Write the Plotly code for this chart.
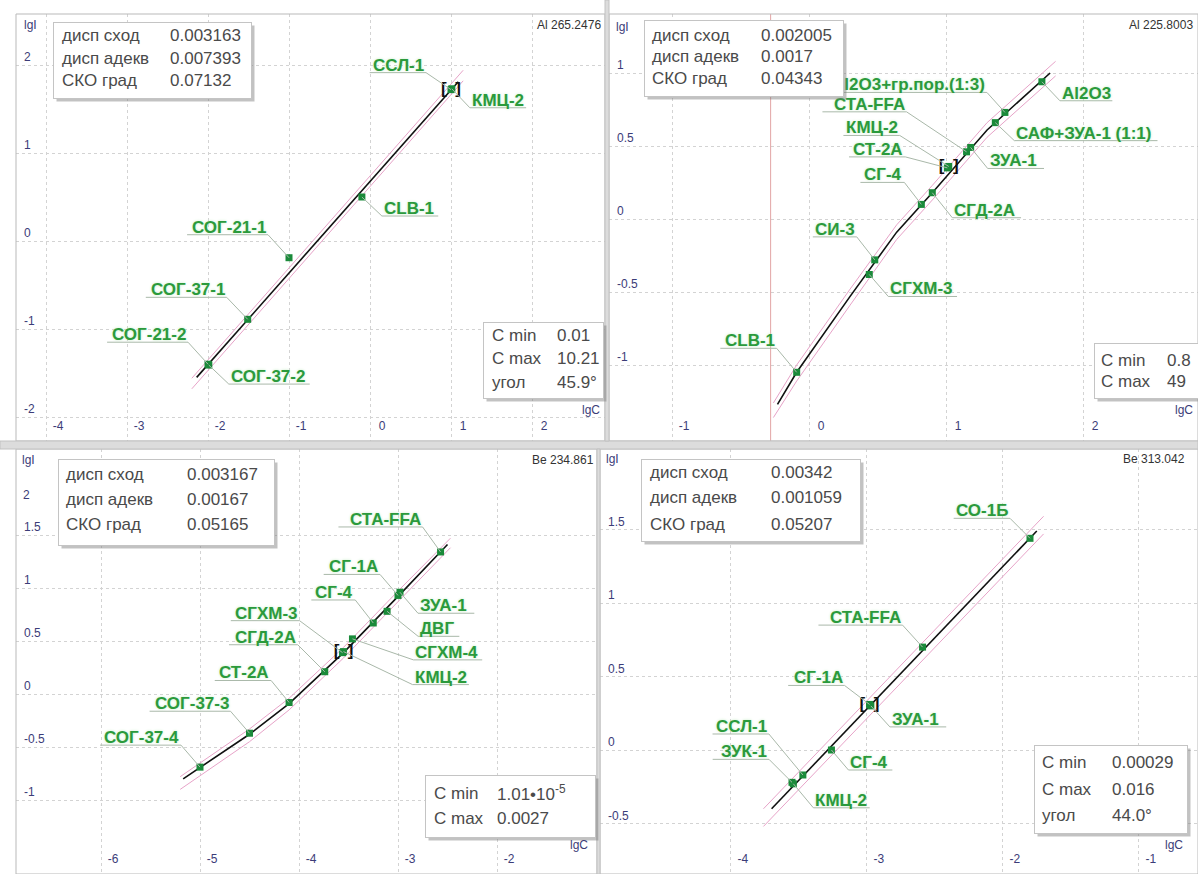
import plotly.graph_objects as go

W, H = 1198, 874

# ---------------------------------------------------------------- data
# Al 265.2476
a_title = "Al 265.2476"
a_names = ["ССЛ-1", "КМЦ-2", "CLB-1", "СОГ-21-1", "СОГ-37-1", "СОГ-21-2", "СОГ-37-2"]
a_lgc = [1.00, 1.01, -0.10, -1.00, -1.51, -2.00, -1.99]
a_lgi = [1.72, 1.73, 0.50, -0.19, -0.89, -1.40, -1.41]
a_fit_lgc = [-2.14, 1.09]
a_fit_lgi = [-1.55, 1.81]
a_band_lgc = [-2.20, 1.15]
a_band_lo = [-1.68, 1.82]
a_band_hi = [-1.56, 1.94]
a_selected = 0
a_stats = ["0.003163", "0.007393", "0.07132"]
a_range = ["0.01", "10.21", "45.9°"]
a_xticks = [-4, -3, -2, -1, 0, 1, 2]
a_xtext = ["-4", "-3", "-2", "-1", "0", "1", "2"]
a_yticks = [-2, -1, 0, 1, 2]
a_ytext = ["-2", "-1", "0", "1", "2"]

# Al 225.8003
b_title = "Al 225.8003"
b_names = ["Al2O3", "Al2O3+гр.пор.(1:3)", "САФ+ЗУА-1 (1:1)", "ЗУА-1", "СТА-FFA", "КМЦ-2",
           "СТ-2А", "СГД-2А", "СГ-4", "СИ-3", "СГХМ-3", "CLB-1"]
b_lgc = [1.70, 1.43, 1.36, 1.18, 1.15, 1.02, 1.01, 0.90, 0.82, 0.48, 0.44, -0.09]
b_lgi = [0.94, 0.73, 0.66, 0.49, 0.46, 0.36, 0.35, 0.18, 0.10, -0.28, -0.38, -1.05]
b_fit_lgc = [-0.23, -0.09, 0.30, 0.64, 0.90, 1.30, 1.76]
b_fit_lgi = [-1.27, -1.05, -0.53, -0.09, 0.18, 0.61, 1.00]
b_band_lgc = [-0.26, -0.09, 0.30, 0.64, 0.90, 1.30, 1.80]
b_band_lo = [-1.36, -1.11, -0.59, -0.14, 0.13, 0.56, 0.98]
b_band_hi = [-1.26, -1.00, -0.48, -0.04, 0.23, 0.66, 1.08]
b_limit_lgc = -0.28
b_selected = 5
b_stats = ["0.002005", "0.0017", "0.04343"]
b_range = ["0.8", "49"]
b_xticks = [-1, 0, 1, 2]
b_xtext = ["-1", "0", "1", "2"]
b_yticks = [-1, -0.5, 0, 0.5, 1]
b_ytext = ["-1", "-0.5", "0", "0.5", "1"]

# Be 234.861
c_title = "Be 234.861"
c_names = ["СТА-FFA", "СГ-1А", "ЗУА-1", "СГ-4", "ДВГ", "СГХМ-4", "СГХМ-3", "КМЦ-2",
           "СГД-2А", "СТ-2А", "СОГ-37-3", "СОГ-37-4"]
c_lgc = [-2.57, -3.00, -2.98, -3.25, -3.11, -3.46, -3.56, -3.55, -3.74, -4.10, -4.50, -5.00]
c_lgi = [1.34, 0.93, 0.96, 0.67, 0.78, 0.52, 0.39, 0.40, 0.21, -0.08, -0.37, -0.69]
c_fit_lgc = [-5.17, -4.50, -4.10, -3.55, -2.98, -2.50]
c_fit_lgi = [-0.80, -0.38, -0.09, 0.39, 0.94, 1.41]
c_band_lgc = [-5.20, -4.50, -4.10, -3.55, -2.98, -2.47]
c_band_lo = [-0.90, -0.45, -0.15, 0.34, 0.89, 1.38]
c_band_hi = [-0.78, -0.33, -0.04, 0.44, 0.99, 1.47]
c_selected = 7
c_stats = ["0.003167", "0.00167", "0.05165"]
c_range = ["1.01•10<sup>-5</sup>", "0.0027"]
c_xticks = [-6, -5, -4, -3, -2]
c_xtext = ["-6", "-5", "-4", "-3", "-2"]
c_yticks = [-1.5, -1, -0.5, 0, 0.5, 1, 1.5]
c_ytext = ["-1.5", "-1", "-0.5", "0", "0.5", "1", "1.5"]
c_top_tick = "2"

# Be 313.042
d_title = "Be 313.042"
d_names = ["СО-1Б", "СТА-FFA", "СГ-1А", "ЗУА-1", "СГ-4", "ССЛ-1", "ЗУК-1", "КМЦ-2"]
d_lgc = [-1.80, -2.59, -2.98, -2.97, -3.26, -3.47, -3.55, -3.54]
d_lgi = [1.44, 0.70, 0.31, 0.30, 0.00, -0.17, -0.22, -0.23]
d_fit_lgc = [-3.70, -1.75]
d_fit_lgi = [-0.40, 1.49]
d_band_lgc = [-3.76, -1.70]
d_band_lo = [-0.52, 1.47]
d_band_hi = [-0.40, 1.59]
d_selected = 2
d_stats = ["0.00342", "0.001059", "0.05207"]
d_range = ["0.00029", "0.016", "44.0°"]
d_xticks = [-4, -3, -2, -1]
d_xtext = ["-4", "-3", "-2", "-1"]
d_yticks = [-0.5, 0, 0.5, 1, 1.5]
d_ytext = ["-0.5", "0", "0.5", "1", "1.5"]

stat_labels = ["дисп сход", "дисп адекв", "СКО град"]
range_labels = ["C min", "C max", "угол"]

# ---------------------------------------------------------------- layout
# label leaders: elbow offset from the point in px (right, down) and text side
a_place = [(-25, -17, "L"), (18, 19, "R"), (20, 19, "R"), (-21, -23, "L"),
           (-21, -22, "L"), (-20, -22, "L"), (20, 19, "R")]
b_place = [(18, 19, "R"), (-18, -20, "L"), (19, 18, "R"), (17, 21, "R"), (-60, -40, "L"),
           (-49, -31, "L"), (-42, -11, "L"), (20, 25, "R"), (-17, -22, "L"),
           (-18, -23, "L"), (19, 22, "R"), (-20, -24, "L")]
c_place = [(-18, -25, "L"), (-18, -21, "L"), (18, 21, "R"), (-18, -23, "L"), (31, 25, "R"),
           (61, 21, "R"), (-43, -32, "L"), (69, 33, "R"), (-27, -27, "L"),
           (-18, -22, "L"), (-19, -22, "L"), (-19, -22, "L")]
d_place = [(-20, -20, "L"), (-20, -22, "L"), (-25, -19, "L"), (19, 21, "R"),
           (17, 20, "R"), (-34, -41, "L"), (-23, -23, "L"), (20, 24, "R")]

# panel boxes in px and axis calibration (pixel, value, px per unit)
panels = [
    dict(box=(16, 14, 605, 441), xcal=(370, 0, 81), ycal=(241, 0, 88),
         title=a_title, names=a_names, lgc=a_lgc, lgi=a_lgi, fit=(a_fit_lgc, a_fit_lgi),
         band=(a_band_lgc, a_band_lo, a_band_hi), sel=a_selected, place=a_place,
         stats=a_stats, rng=a_range, xt=(a_xticks, a_xtext), yt=(a_yticks, a_ytext),
         sbox=(53, 22, 250, 97), srows=(35, 58, 80), scols=(60, 168),
         rbox=(483, 322, 602, 397), rrows=(335, 358, 382), rcols=(490, 555),
         head=(603, 25), lgi_pos=(22, 25), lgc_pos=(602, 410)),
    dict(box=(609, 14, 1198, 441), xcal=(809, 0, 137), ycal=(219, 0, 146),
         title=b_title, names=b_names, lgc=b_lgc, lgi=b_lgi, fit=(b_fit_lgc, b_fit_lgi),
         band=(b_band_lgc, b_band_lo, b_band_hi), sel=b_selected, place=b_place,
         stats=b_stats, rng=b_range, xt=(b_xticks, b_xtext), yt=(b_yticks, b_ytext),
         sbox=(644, 20, 842, 95), srows=(35, 57, 78), scols=(650, 759),
         rbox=(1094, 343, 1197, 397), rrows=(360, 381), rcols=(1099, 1165),
         head=(1195, 25), lgi_pos=(614, 27), lgc_pos=(1195, 410)),
    dict(box=(16, 449, 597, 874), xcal=(200, -5, 99), ycal=(694, 0, 106),
         title=c_title, names=c_names, lgc=c_lgc, lgi=c_lgi, fit=(c_fit_lgc, c_fit_lgi),
         band=(c_band_lgc, c_band_lo, c_band_hi), sel=c_selected, place=c_place,
         stats=c_stats, rng=c_range, xt=(c_xticks, c_xtext), yt=(c_yticks, c_ytext),
         sbox=(58, 459, 273, 544), srows=(474, 499, 524), scols=(64, 185),
         rbox=(425, 775, 594, 836), rrows=(793, 818), rcols=(432, 495),
         head=(596, 460), lgi_pos=(20, 460), lgc_pos=(590, 845)),
    dict(box=(600, 449, 1198, 874), xcal=(1030, -1.80, 136), ycal=(750, 0, 147),
         title=d_title, names=d_names, lgc=d_lgc, lgi=d_lgi, fit=(d_fit_lgc, d_fit_lgi),
         band=(d_band_lgc, d_band_lo, d_band_hi), sel=d_selected, place=d_place,
         stats=d_stats, rng=d_range, xt=(d_xticks, d_xtext), yt=(d_yticks, d_ytext),
         sbox=(641, 459, 859, 540), srows=(472, 497, 524), scols=(648, 769),
         rbox=(1034, 745, 1186, 832), rrows=(762, 789, 815), rcols=(1040, 1110),
         head=(1187, 459), lgi_pos=(604, 459), lgc_pos=(1185, 845)),
]

FONT = "Liberation Sans, Arial, sans-serif"
GREEN_TXT = "#2b9a3c"
GREEN_MK = "#1b8a3a"
TICK_CLR = "#3c3c78"
BOX_TXT = "#4a4a4a"
LABEL_SIZE = 17


def px(x, y):
    return x / W, 1 - y / H


def text_width(s, size):
    w = 0.0
    for ch in s:
        if ch.isdigit():
            w += 0.556
        elif ch in "-()":
            w += 0.333
        elif ch in ".:, l":
            w += 0.278
        elif ch == "+":
            w += 0.584
        elif ch.isupper():
            w += 0.73
        else:
            w += 0.61
    return w * size


fig = go.Figure()
shapes = []
labels = []
boxes = []

for i, p in enumerate(panels):
    sfx = "" if i == 0 else str(i + 1)
    xr, yr = "x" + sfx, "y" + sfx
    x0, y0, x1, y1 = p["box"]
    pxv, xv, xu = p["xcal"]
    pyv, yv, yu = p["ycal"]
    xrange = [xv + (x0 - pxv) / xu, xv + (x1 - pxv) / xu]
    yrange = [yv + (pyv - y1) / yu, yv + (pyv - y0) / yu]

    axis_common = dict(showgrid=True, gridcolor="#d3d3d3", griddash="dot", gridwidth=1,
                       zeroline=False, showline=False, ticks="", fixedrange=True,
                       ticklabelposition="inside",
                       tickfont=dict(family=FONT, size=12, color=TICK_CLR))
    fig.layout["xaxis" + sfx] = dict(axis_common, domain=[x0 / W, x1 / W], range=xrange,
                                     anchor=yr, tickmode="array", tickvals=p["xt"][0],
                                     ticktext=p["xt"][1], ticklabelshift=12,
                                     ticklabelstandoff=6)
    fig.layout["yaxis" + sfx] = dict(axis_common, domain=[1 - y1 / H, 1 - y0 / H],
                                     range=yrange, anchor=xr, tickmode="array",
                                     tickvals=p["yt"][0], ticktext=p["yt"][1],
                                     ticklabelshift=-8, ticklabelstandoff=5)

    # panel frame
    fx0, fy0 = px(x0, y1)
    fx1, fy1 = px(x1, y0)
    shapes.append(dict(type="rect", xref="paper", yref="paper", x0=fx0, x1=fx1,
                       y0=fy0, y1=fy1, line=dict(color="#b9b9b9", width=1),
                       fillcolor="rgba(0,0,0,0)", layer="above"))

    # confidence band and calibration line
    bl, blo, bhi = p["band"]
    for yy in (blo, bhi):
        fig.add_trace(go.Scatter(x=bl, y=yy, mode="lines", xaxis=xr, yaxis=yr,
                                 line=dict(color="#e7a3c8", width=1), hoverinfo="skip",
                                 showlegend=False))
    fig.add_trace(go.Scatter(x=p["fit"][0], y=p["fit"][1], mode="lines", xaxis=xr,
                             yaxis=yr, line=dict(color="#111111", width=1.6),
                             hoverinfo="skip", showlegend=False))

    if i == 1:
        fig.add_trace(go.Scatter(x=[b_limit_lgc, b_limit_lgc], y=yrange, mode="lines",
                                 xaxis=xr, yaxis=yr, line=dict(color="#e2a4a4", width=1),
                                 hoverinfo="skip", showlegend=False))

    # leaders and names
    for name, cx, cy, (dx, dy, side) in zip(p["names"], p["lgc"], p["lgi"], p["place"]):
        tw = text_width(name, LABEL_SIZE) + 4
        ux = dx - tw if side == "L" else dx + tw
        shapes.append(dict(type="path", xref=xr, yref=yr, xsizemode="pixel",
                           ysizemode="pixel", xanchor=cx, yanchor=cy,
                           path=f"M0,0 L{dx},{-dy} L{ux},{-dy}",
                           line=dict(color="#a9b8a9", width=1), layer="above"))
        labels.append(dict(x=cx, y=cy, xref=xr, yref=yr, text=name, showarrow=False,
                           xanchor="right" if side == "L" else "left", yanchor="bottom",
                           xshift=dx - 1 if side == "L" else dx + 1, yshift=-dy - 3,
                           font=dict(family=FONT, size=LABEL_SIZE, color=GREEN_TXT,
                                     weight="bold", shadow="0px 0px 3px #c6ecc6"),
                           borderpad=0))

    fig.add_trace(go.Scatter(x=p["lgc"], y=p["lgi"], mode="markers", xaxis=xr, yaxis=yr,
                             marker=dict(symbol="square", size=7, color=GREEN_MK),
                             hoverinfo="skip", showlegend=False))
    s = p["sel"]
    fig.add_trace(go.Scatter(x=[p["lgc"][s]], y=[p["lgi"][s]], mode="text",
                             text=["[\u2002]"], textposition="middle center",
                             textfont=dict(family=FONT, size=17, color="#111111",
                                           weight="bold"),
                             xaxis=xr, yaxis=yr, hoverinfo="skip", showlegend=False))

    # statistics box and concentration box (drawn over the names)
    for (bx0, by0, bx1, by1), rows, cols, left, right in (
            (p["sbox"], p["srows"], p["scols"], stat_labels, p["stats"]),
            (p["rbox"], p["rrows"], p["rcols"], range_labels, p["rng"])):
        sx, sy = px(bx0 + 3, by0 + 3)
        boxes.append(dict(x=sx, y=sy, xref="paper", yref="paper", text="\u00a0",
                          showarrow=False, xanchor="left", yanchor="top",
                          width=bx1 - bx0, height=by1 - by0, borderpad=0,
                          bgcolor="rgba(120,120,120,0.45)"))
        bxp, byp = px(bx0, by0)
        boxes.append(dict(x=bxp, y=byp, xref="paper", yref="paper", text="\u00a0",
                          showarrow=False, xanchor="left", yanchor="top",
                          width=bx1 - bx0, height=by1 - by0, borderpad=0,
                          bgcolor="white", bordercolor="#c4c4c4", borderwidth=1))
        for ry, lt, vt in zip(rows, left, right):
            for cxp, t in ((cols[0], lt), (cols[1], vt)):
                ax, ay = px(cxp, ry)
                boxes.append(dict(x=ax, y=ay, xref="paper", yref="paper", text=t,
                                  showarrow=False, xanchor="left", yanchor="middle",
                                  font=dict(family=FONT, size=17, color=BOX_TXT)))

    # header, axis names
    hx, hy = px(*p["head"])
    boxes.append(dict(x=hx, y=hy, xref="paper", yref="paper", text=p["title"],
                      showarrow=False, xanchor="right", yanchor="middle",
                      font=dict(family=FONT, size=12, color="#333333")))
    lx, ly = px(*p["lgi_pos"])
    boxes.append(dict(x=lx, y=ly, xref="paper", yref="paper", text="lgI", showarrow=False,
                      xanchor="left", yanchor="middle",
                      font=dict(family=FONT, size=12, color=TICK_CLR)))
    cxp, cyp = px(*p["lgc_pos"])
    boxes.append(dict(x=cxp, y=cyp, xref="paper", yref="paper", text="lgC",
                      showarrow=False, xanchor="right", yanchor="middle",
                      font=dict(family=FONT, size=12, color=TICK_CLR)))

# extra tick caption at the top of the Be 234.861 axis
tx, ty = px(21, 495)
boxes.append(dict(x=tx, y=ty, xref="paper", yref="paper", text=c_top_tick,
                  showarrow=False, xanchor="left", yanchor="middle",
                  font=dict(family=FONT, size=12, color=TICK_CLR)))

# separators between the four windows
for (sx0, sy0, sx1, sy1) in ((0, 441, W, 449), (605, 0, 609, 441), (597, 449, 600, H)):
    a0, b0 = px(sx0, sy1)
    a1, b1 = px(sx1, sy0)
    shapes.append(dict(type="rect", xref="paper", yref="paper", x0=a0, x1=a1, y0=b0,
                       y1=b1, fillcolor="#dcdcdc", line=dict(color="#c2c2c2", width=1),
                       layer="above"))

fig.update_layout(width=W, height=H, margin=dict(l=0, r=0, t=0, b=0), autosize=False,
                  paper_bgcolor="white", plot_bgcolor="white", showlegend=False,
                  shapes=shapes, annotations=labels + boxes)

fig.write_html("out.html")
